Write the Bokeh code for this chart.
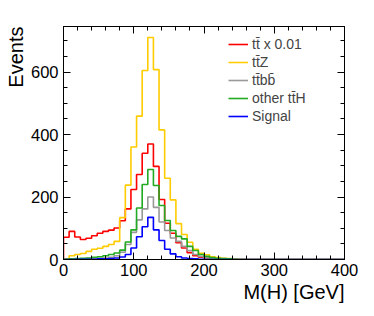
import numpy as np
from bokeh.plotting import figure
from bokeh.models import Range1d, LinearAxis, Legend, LegendItem, FixedTicker, Title
from bokeh.embed import file_html
from bokeh.resources import INLINE

# ---- data (8 GeV bins from 0 to 400 GeV) ----
x_lo, x_hi, bin_w = 0, 400, 8
y_top = 746

tt_x001 = [71, 90, 72, 64, 68, 76, 84, 90, 94, 101,
           124, 162, 224, 272, 340, 370, 298, 192, 116, 84,
           54, 37, 22, 12, 7, 4, 3, 2, 2, 1,
           1, 0, 0, 0, 0, 0, 0, 0, 0, 0,
           0, 0, 0, 0, 0, 0, 0, 0, 0, 0]
ttZ = [2, 12, 16, 19, 26, 33, 36, 42, 48, 58,
       134, 238, 360, 459, 605, 711, 608, 415, 260, 191,
       115, 80, 55, 33, 20, 15, 9, 6, 4, 3,
       2, 1, 0, 0, 0, 0, 0, 0, 0, 0,
       0, 0, 0, 0, 0, 0, 0, 0, 0, 0]
ttbb = [1, 1, 2, 2, 3, 3, 4, 5, 7, 12,
        23, 48, 87, 127, 162, 200, 167, 120, 93, 69,
        58, 42, 29, 16, 10, 5, 3, 2, 1, 1,
        0, 0, 0, 0, 0, 0, 0, 0, 0, 0,
        0, 0, 0, 0, 0, 0, 0, 0, 0, 0]
other_ttH = [1, 2, 3, 4, 5, 7, 9, 12, 16, 21,
             30, 56, 95, 165, 240, 288, 237, 173, 125, 93,
             74, 66, 42, 29, 16, 10, 6, 4, 3, 2,
             1, 0, 0, 0, 0, 0, 0, 0, 0, 0,
             0, 0, 0, 0, 0, 0, 0, 0, 0, 0]
signal = [0, 0, 1, 1, 1, 1, 2, 2, 3, 5,
          8, 16, 37, 73, 105, 135, 95, 61, 33, 18,
          9, 5, 3, 2, 1, 0, 0, 0, 0, 0,
          0, 0, 0, 0, 0, 0, 0, 0, 0, 0,
          0, 0, 0, 0, 0, 0, 0, 0, 0, 0]

labels = ["t\u0074\u0304 x 0.01", "t\u0074\u0304Z", "t\u0074\u0304b\u0062\u0304",
          "other t\u0074\u0304H", "Signal"]
colors = ["#ff0000", "#ffcc00", "#999999", "#22aa22", "#0000ff"]
series = [tt_x001, ttZ, ttbb, other_ttH, signal]

x_ticks = [0, 100, 200, 300, 400]
y_ticks = [0, 200, 400, 600]
x_title = "M(H) [GeV]"
y_title = "Events"

edges = np.arange(x_lo, x_hi + bin_w, bin_w)


def step_xy(vals):
    xs = [edges[0]]
    ys = [0]
    for i, v in enumerate(vals):
        xs += [edges[i], edges[i + 1]]
        ys += [v, v]
    xs.append(edges[-1])
    ys.append(0)
    return xs, ys


p = figure(width=372, height=314, x_range=Range1d(x_lo, x_hi), y_range=Range1d(0, y_top),
           output_backend="svg", toolbar_location=None,
           min_border_left=63, min_border_right=28, min_border_top=26, min_border_bottom=55)
p.xgrid.visible = False
p.ygrid.visible = False
p.outline_line_color = "black"
p.outline_line_width = 1
p.background_fill_color = "white"

p.add_layout(LinearAxis(), "above")
p.add_layout(LinearAxis(), "right")

font = "Liberation Sans"
for ax in p.xaxis:
    ax.ticker = FixedTicker(ticks=x_ticks, minor_ticks=list(range(0, 401, 20)))
for ax in p.yaxis:
    ax.ticker = FixedTicker(ticks=y_ticks, minor_ticks=list(range(0, y_top, 50)))
for ax in p.xaxis + p.yaxis:
    ax.major_tick_in = 7
    ax.major_tick_out = 0
    ax.minor_tick_in = 4
    ax.minor_tick_out = 0
    ax.axis_line_color = "black"
    ax.major_tick_line_color = "black"
    ax.minor_tick_line_color = "black"
    ax.major_label_text_font = font
    ax.major_label_text_font_size = "16.5px"
    ax.major_label_text_color = "black"
p.below[0].major_label_standoff = 4
p.left[0].major_label_standoff = 5
p.above[0].major_label_overrides = {t: "" for t in x_ticks}
p.right[0].major_label_overrides = {t: "" for t in y_ticks}
for ax in (p.above[0], p.right[0]):
    ax.major_label_standoff = 0

p.add_layout(Title(text=x_title, align="right", standoff=1, text_font=font,
                   text_font_size="20px", text_font_style="normal", text_color="black"), "below")
p.add_layout(Title(text=y_title, align="right", standoff=1, text_font=font,
                   text_font_size="20px", text_font_style="normal", text_color="black"), "left")

items = []
for vals, col, lab in zip(series, colors, labels):
    xs, ys = step_xy(vals)
    r = p.line(xs, ys, line_color=col, line_width=1.6)
    items.append(LegendItem(label=lab, renderers=[r]))

legend = Legend(items=items, location=(165, 134), glyph_width=20, glyph_height=18,
                label_height=18, spacing=0, padding=0, margin=0,
                border_line_color=None, background_fill_alpha=0,
                label_text_font=font, label_text_font_size="14px", label_standoff=4)
p.add_layout(legend)

open("out.html", "w").write(file_html(p, INLINE))
